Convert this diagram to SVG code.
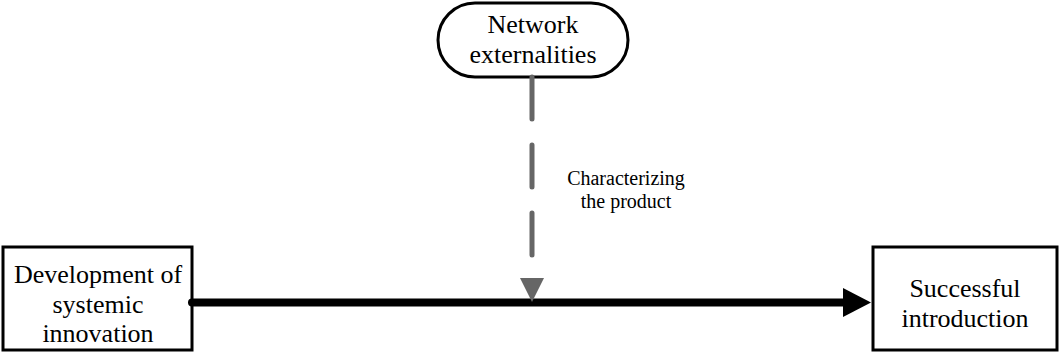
<svg xmlns="http://www.w3.org/2000/svg" width="1062" height="360" viewBox="0 0 1062 360">
  <style>
    .box { fill: #ffffff; stroke: #000000; stroke-width: 3; }
    .lbl { font-family: "Liberation Serif", "Times New Roman", serif; font-size: 26px; fill: #000000; text-anchor: middle; }
    .note { font-family: "Liberation Serif", "Times New Roman", serif; font-size: 20px; fill: #000000; text-anchor: middle; }
    .main { stroke: #000000; stroke-width: 8; stroke-linecap: round; fill: none; }
    .moderator { stroke: #666666; stroke-width: 5; stroke-linecap: round; stroke-dasharray: 42 26; fill: none; }
  </style>

  <g id="network-externalities">
    <rect class="box" x="438" y="3" width="190" height="74" rx="37" ry="37"/>
    <text class="lbl" x="533" y="33">Network</text>
    <text class="lbl" x="533" y="63">externalities</text>
  </g>

  <g id="systemic-innovation">
    <rect class="box" x="3" y="247" width="189" height="103"/>
    <text class="lbl" x="98" y="283">Development of</text>
    <text class="lbl" x="98" y="313">systemic</text>
    <text class="lbl" x="98" y="342">innovation</text>
  </g>

  <g id="successful-introduction">
    <rect class="box" x="873" y="247" width="184" height="103"/>
    <text class="lbl" x="965" y="297">Successful</text>
    <text class="lbl" x="965" y="327">introduction</text>
  </g>

  <g id="connectors">
    <!-- main effect: development -> introduction -->
    <line class="main" x1="192" y1="302.5" x2="846" y2="302.5"/>
    <polygon points="843,288 871,302.5 843,317" fill="#000000"/>
    <!-- moderating effect from network externalities -->
    <line class="moderator" x1="532" y1="77" x2="532" y2="255"/>
    <polygon points="520,278 544,278 532,302" fill="#666666"/>
    <text class="note" x="626" y="185">Characterizing</text>
    <text class="note" x="626" y="208">the product</text>
  </g>
</svg>
